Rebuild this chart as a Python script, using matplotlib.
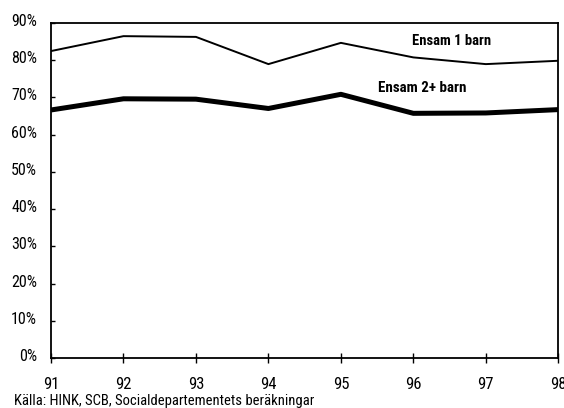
import matplotlib.pyplot as plt
import matplotlib.transforms as mtransforms
from matplotlib.ticker import PercentFormatter

plt.rcParams['font.family'] = ['Roboto Condensed', 'DejaVu Sans']

years = [91, 92, 93, 94, 95, 96, 97, 98]
year_labels = ['91', '92', '93', '94', '95', '96', '97', '98']
ensam_1 = [82.4, 86.4, 86.2, 78.9, 84.6, 80.7, 78.9, 79.8]
ensam_2 = [66.6, 69.6, 69.5, 67.0, 70.8, 65.7, 65.8, 66.7]

fig = plt.figure(figsize=(5.64, 4.08), dpi=100)
ax = fig.add_axes([0.0904, 0.1218, 0.8995, 0.8225])

ax.plot(years, ensam_1, color='black', lw=1.4)
ax.plot(years, ensam_2, color='black', lw=3.6, solid_capstyle='butt')

ax.set_xlim(91, 98)
ax.set_ylim(0, 90)
ax.set_xticks(years)
ax.set_xticklabels(year_labels)
ax.set_yticks(range(0, 91, 10))
ax.yaxis.set_major_formatter(PercentFormatter(decimals=0))
ax.tick_params(axis='x', direction='inout', length=7, width=1, labelsize=12, pad=10)
ax.tick_params(axis='y', direction='in', length=3.2, width=1, labelsize=11.5, pad=10)
for s in ax.spines.values():
    s.set_linewidth(1.3)

# y labels sit a little above their ticks
shift = mtransforms.ScaledTranslation(0, 3 / 100, fig.dpi_scale_trans)
for lab in ax.get_yticklabels():
    lab.set_transform(lab.get_transform() + shift)

ax.text(0.789, 0.946, 'Ensam 1 barn', transform=ax.transAxes, fontsize=10.5,
        fontweight='bold', ha='center', va='center')
ax.text(0.732, 0.8045, 'Ensam 2+ barn', transform=ax.transAxes, fontsize=10.8,
        fontweight='bold', ha='center', va='center')

fig.text(0.025, 0.008, 'Källa: HINK, SCB, Socialdepartementets beräkningar',
         fontsize=10.5, ha='left', va='baseline')

fig.savefig('out.png', dpi=100)
